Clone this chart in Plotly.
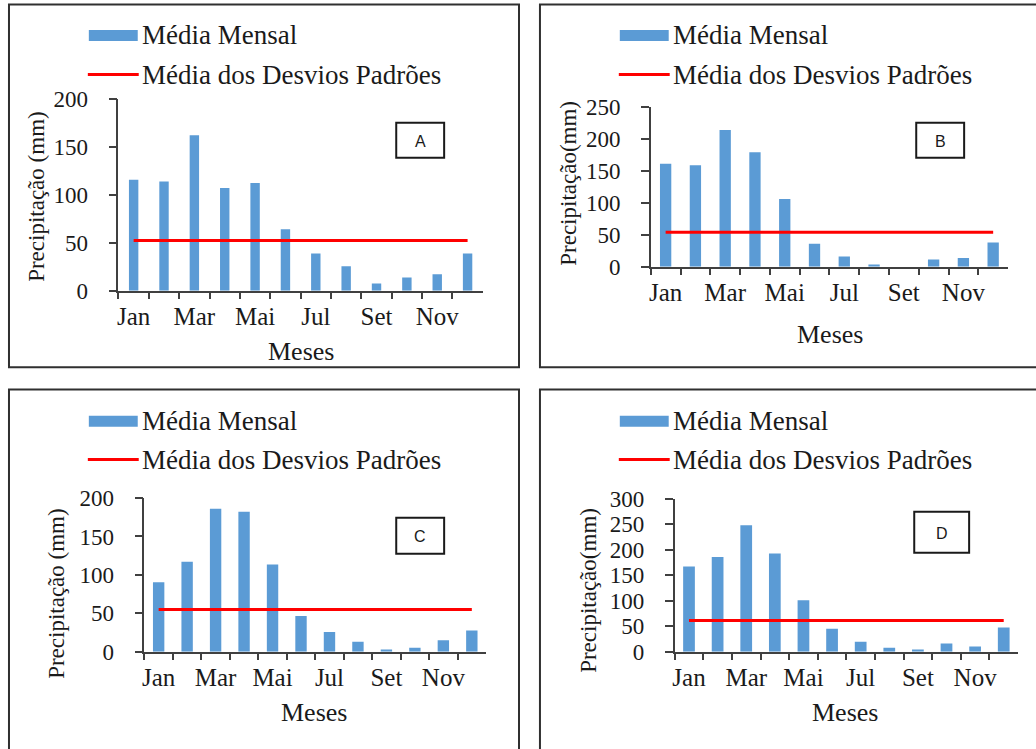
import plotly.graph_objects as go

# ---------------- data ----------------
months = ["Jan", "Fev", "Mar", "Abr", "Mai", "Jun", "Jul", "Ago", "Set", "Out", "Nov", "Dez"]
tick_labels = ["Jan", "", "Mar", "", "Mai", "", "Jul", "", "Set", "", "Nov", ""]

media_A = [115.5, 113.7, 162, 107, 112.3, 64, 39, 25.7, 7.7, 13.9, 17.4, 39]
media_B = [161, 159, 214, 179, 106, 36, 16, 3.7, 0, 11.5, 13.6, 38]
media_C = [90.4, 117, 186, 182, 113.5, 46.5, 25.7, 13, 3, 5.2, 15.2, 27.8]
media_D = [167, 186, 248, 192.6, 101, 45, 19.7, 7.9, 4.6, 16.4, 10.5, 47.8]

desvio_A = 52.5
desvio_B = 54
desvio_C = 55.2
desvio_D = 61.6

y_max = {"A": 200, "B": 250, "C": 200, "D": 300}
panel_labels = ["A", "B", "C", "D"]
legend_names = ["Média Mensal", "Média dos Desvios Padrões"]
x_title = "Meses"
y_titles = ["Precipitação (mm)", "Precipitação(mm)", "Precipitação (mm)", "Precipitação(mm)"]

# ---------------- layout helpers (pixels -> paper) ----------------
W, H = 1036, 749
# vertical compensation for the viewer (measured offset / scale of the photographed page)
OFF, SC = 13.6, 0.964

def px(x):
    return x / W

def py(y):
    return 1 - ((y - OFF) / SC) / H

SERIF = "Liberation Serif, Times New Roman, serif"
SANS = "Liberation Sans, Arial, sans-serif"
TXT = "#1a1a1a"
AX = "#404040"
BAR = "#5B9BD5"
RED = "#FF0000"

panels = [
    dict(key="A", data=media_A, dev=desvio_A, area=(116.7, 481.7, 100, 291.7), bw=0.31,
         frame=(7, 6, 518, 368), leg=(87, 37, 76), ytc=(35, 197), xtc=(300, 352), box=(395, 124, 443, 159)),
    dict(key="B", data=media_B, dev=desvio_B, area=(650, 1008, 108.3, 267.7), bw=0.38,
         frame=(539, 6, 1040, 368), leg=(619, 37, 76), ytc=(568, 184), xtc=(830, 335), box=(916, 124, 964, 159)),
    dict(key="C", data=media_C, dev=desvio_C, area=(142.7, 485, 498.3, 651.7), bw=0.4,
         frame=(7, 390, 518, 790), leg=(87, 421.7, 460), ytc=(55, 593), xtc=(313, 712), box=(395, 518, 443, 554)),
    dict(key="D", data=media_D, dev=desvio_D, area=(674, 1018, 499, 651.7), bw=0.41,
         frame=(539, 390, 1040, 790), leg=(619, 421.7, 460), ytc=(588, 590), xtc=(845, 712), box=(914, 512, 969, 553)),
]

fig = go.Figure()
shapes = []
annotations = []
layout_axes = {}

for i, p in enumerate(panels):
    n = "" if i == 0 else str(i + 1)
    xa, ya = "x" + n, "y" + n
    fig.add_trace(go.Bar(x=months, y=p["data"], marker=dict(color=BAR, line=dict(width=0)),
                         width=p["bw"], xaxis=xa, yaxis=ya, showlegend=False,
                         name=legend_names[0]))
    fig.add_trace(go.Scatter(x=months, y=[p["dev"]] * len(months), mode="lines",
                             line=dict(color=RED, width=3), xaxis=xa, yaxis=ya,
                             showlegend=False, name=legend_names[1]))
    x0, x1, yt, yb = p["area"]
    layout_axes["xaxis" + n] = dict(
        domain=[px(x0), px(x1)], anchor=ya, type="category",
        tickmode="array", tickvals=months, ticktext=tick_labels, tickangle=0,
        tickson="boundaries", ticks="outside", ticklen=6, tickwidth=1.5, tickcolor=AX,
        showline=True, linecolor=AX, linewidth=1.5, showgrid=False, zeroline=False,
        tickfont=dict(family=SERIF, size=25, color=TXT), ticklabelstandoff=2,
        fixedrange=True,
    )
    layout_axes["yaxis" + n] = dict(
        domain=[py(yb), py(yt)], anchor=xa, range=[0, y_max[p["key"]]], dtick=50,
        ticks="outside", ticklen=8, tickwidth=1.5, tickcolor=AX,
        showline=True, linecolor=AX, linewidth=1.5, showgrid=False, zeroline=False,
        tickfont=dict(family=SERIF, size=23, color=TXT), ticklabelstandoff=16,
        fixedrange=True,
    )
    fx0, fy0, fx1, fy1 = p["frame"]
    shapes.append(dict(type="rect", xref="paper", yref="paper", x0=px(fx0), x1=px(fx1),
                       y0=py(fy1), y1=py(fy0), line=dict(color="#303030", width=2)))
    lx, ly1, ly2 = p["leg"]
    shapes.append(dict(type="rect", xref="paper", yref="paper", x0=px(lx), x1=px(lx + 49),
                       y0=py(ly1 + 5.5), y1=py(ly1 - 5.5), fillcolor=BAR, line=dict(width=0)))
    shapes.append(dict(type="line", xref="paper", yref="paper", x0=px(lx - 1), x1=px(lx + 50),
                       y0=py(ly2), y1=py(ly2), line=dict(color=RED, width=3)))
    annotations.append(dict(text=legend_names[0], xref="paper", yref="paper", x=px(lx + 51), y=py(ly1),
                            xanchor="left", yanchor="middle", showarrow=False,
                            font=dict(family=SERIF, size=27, color=TXT)))
    annotations.append(dict(text=legend_names[1], xref="paper", yref="paper", x=px(lx + 51), y=py(ly2),
                            xanchor="left", yanchor="middle", showarrow=False,
                            font=dict(family=SERIF, size=27, color=TXT)))
    annotations.append(dict(text=y_titles[i], xref="paper", yref="paper", x=px(p["ytc"][0]), y=py(p["ytc"][1]),
                            xanchor="center", yanchor="middle", textangle=-90, showarrow=False,
                            font=dict(family=SERIF, size=23, color=TXT)))
    annotations.append(dict(text=x_title, xref="paper", yref="paper", x=px(p["xtc"][0]), y=py(p["xtc"][1]),
                            xanchor="center", yanchor="middle", showarrow=False,
                            font=dict(family=SERIF, size=26, color=TXT)))
    bx0, by0, bx1, by1 = p["box"]
    shapes.append(dict(type="rect", xref="paper", yref="paper", x0=px(bx0), x1=px(bx1),
                       y0=py(by1), y1=py(by0), line=dict(color="#1a1a1a", width=2), fillcolor="white"))
    annotations.append(dict(text=panel_labels[i], xref="paper", yref="paper", x=px((bx0 + bx1) / 2),
                            y=py((by0 + by1) / 2 + 1), xanchor="center", yanchor="middle", showarrow=False,
                            font=dict(family=SANS, size=16, color=TXT)))

fig.update_layout(
    width=W, height=H, margin=dict(l=0, r=0, t=0, b=0),
    paper_bgcolor="white", plot_bgcolor="white",
    showlegend=False,
    shapes=shapes, annotations=annotations,
    **layout_axes,
)

fig.write_html(
    "out.html",
    config={"displayModeBar": False},
    post_script=(
        "document.documentElement.style.margin='0';document.body.style.margin='0';"
        "document.body.style.padding='0';document.documentElement.style.overflow='hidden';"
        "document.body.style.overflow='hidden';"
    ),
)
